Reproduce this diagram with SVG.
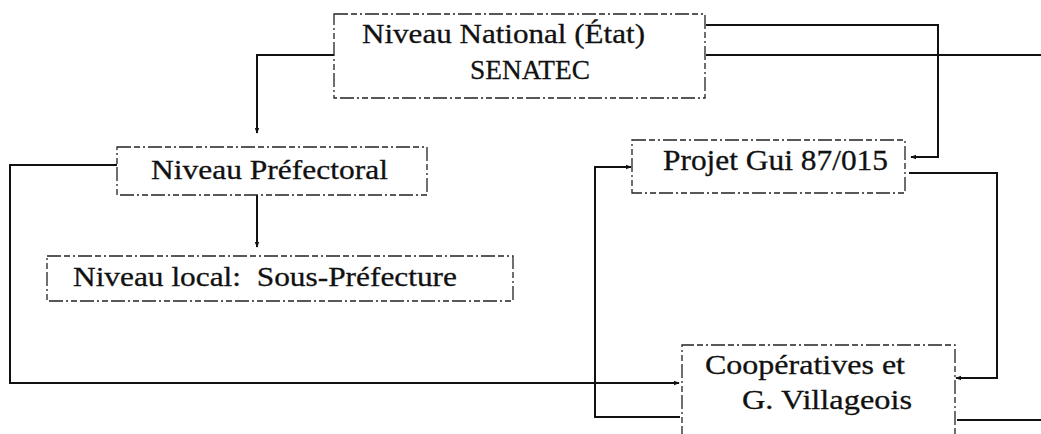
<svg xmlns="http://www.w3.org/2000/svg" width="1041" height="434" viewBox="0 0 1041 434">
<defs>
<style>
.box{fill:none;stroke:#222;stroke-width:1.3;stroke-dasharray:14 3 6 3 2 3}
.lbl{font-family:"Liberation Serif","Times New Roman",serif;fill:#111;stroke:#111;stroke-width:0.3}
.con{fill:none;stroke:#111;stroke-width:2}
</style>
<marker id="arr" viewBox="0 0 8 8" refX="7" refY="4" markerWidth="6" markerHeight="6" markerUnits="userSpaceOnUse" orient="auto">
<path d="M0,1 L8,4 L0,7 Z" fill="#111"/>
</marker>
</defs>
<rect width="1041" height="434" fill="#fff"/>
<g id="connectors">
<polyline class="con" points="334,55 257,55 257,133" marker-end="url(#arr)"/>
<polyline class="con" points="257,195 257,247" marker-end="url(#arr)"/>
<polyline class="con" points="117,165 10,165 10,383 679,383" marker-end="url(#arr)"/>
<polyline class="con" points="706,25 938,25 938,157 911,157" marker-end="url(#arr)"/>
<polyline class="con" points="706,55 1041,55"/>
<polyline class="con" points="909,173 997,173 997,378 956,378" marker-end="url(#arr)"/>
<polyline class="con" points="680,417 595,417 595,167 631,167" marker-end="url(#arr)"/>
<polyline class="con" points="957,420 1041,420"/>
</g>
<g id="national">
<rect class="box" x="334" y="14" width="371" height="84"/>
<text class="lbl" x="362" y="43" font-size="28" textLength="283" lengthAdjust="spacingAndGlyphs">Niveau National (État)</text>
<text class="lbl" x="470" y="79" font-size="28" textLength="120" lengthAdjust="spacingAndGlyphs">SENATEC</text>
</g>
<g id="prefectoral">
<rect class="box" x="117" y="147" width="310" height="48"/>
<text class="lbl" x="151" y="179" font-size="28" textLength="237" lengthAdjust="spacingAndGlyphs">Niveau Préfectoral</text>
</g>
<g id="local">
<rect class="box" x="47" y="256" width="466" height="45"/>
<text class="lbl" x="73" y="286" font-size="28" textLength="384" lengthAdjust="spacingAndGlyphs">Niveau local:&#160; Sous-Préfecture</text>
</g>
<g id="projet">
<rect class="box" x="632" y="140" width="273" height="53"/>
<text class="lbl" x="663" y="170" font-size="30" textLength="225" lengthAdjust="spacingAndGlyphs">Projet Gui 87/015</text>
</g>
<g id="cooperatives">
<path class="box" d="M682,440 L682,345 L955,345 L955,440"/>
<text class="lbl" x="705" y="374" font-size="28" textLength="200" lengthAdjust="spacingAndGlyphs">Coopératives et</text>
<text class="lbl" x="742" y="409" font-size="28" textLength="170" lengthAdjust="spacingAndGlyphs">G. Villageois</text>
</g>
</svg>
